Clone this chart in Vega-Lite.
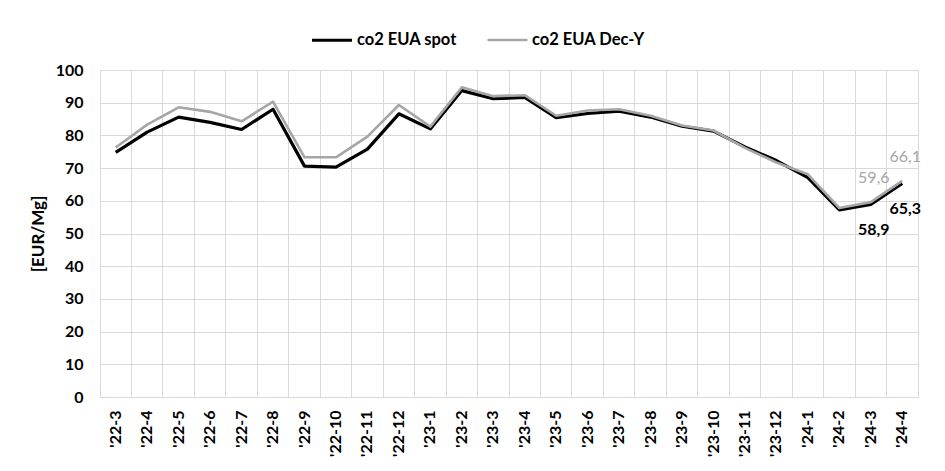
{
  "$schema": "https://vega.github.io/schema/vega-lite/v6.json",
  "width": 818,
  "height": 327,
  "autosize": "none",
  "padding": {"left": 100, "top": 70, "right": 27, "bottom": 74},
  "background": "white",
  "config": {
    "font": "Lato",
    "view": {"stroke": "#d9d9d9", "strokeWidth": 1}
  },
  "datasets": {
    "prices": [
      {"month": "'22-3", "series": "co2 EUA spot", "value": 74.8},
      {"month": "'22-4", "series": "co2 EUA spot", "value": 81.0},
      {"month": "'22-5", "series": "co2 EUA spot", "value": 85.6},
      {"month": "'22-6", "series": "co2 EUA spot", "value": 84.0},
      {"month": "'22-7", "series": "co2 EUA spot", "value": 81.8},
      {"month": "'22-8", "series": "co2 EUA spot", "value": 88.0},
      {"month": "'22-9", "series": "co2 EUA spot", "value": 70.6},
      {"month": "'22-10", "series": "co2 EUA spot", "value": 70.3},
      {"month": "'22-11", "series": "co2 EUA spot", "value": 75.8},
      {"month": "'22-12", "series": "co2 EUA spot", "value": 86.6},
      {"month": "'23-1", "series": "co2 EUA spot", "value": 82.0},
      {"month": "'23-2", "series": "co2 EUA spot", "value": 93.7},
      {"month": "'23-3", "series": "co2 EUA spot", "value": 91.2},
      {"month": "'23-4", "series": "co2 EUA spot", "value": 91.6},
      {"month": "'23-5", "series": "co2 EUA spot", "value": 85.4},
      {"month": "'23-6", "series": "co2 EUA spot", "value": 86.7},
      {"month": "'23-7", "series": "co2 EUA spot", "value": 87.4},
      {"month": "'23-8", "series": "co2 EUA spot", "value": 85.6},
      {"month": "'23-9", "series": "co2 EUA spot", "value": 82.8},
      {"month": "'23-10", "series": "co2 EUA spot", "value": 81.3},
      {"month": "'23-11", "series": "co2 EUA spot", "value": 76.5},
      {"month": "'23-12", "series": "co2 EUA spot", "value": 72.3},
      {"month": "'24-1", "series": "co2 EUA spot", "value": 67.1},
      {"month": "'24-2", "series": "co2 EUA spot", "value": 57.2},
      {"month": "'24-3", "series": "co2 EUA spot", "value": 58.9, "label": "58,9"},
      {"month": "'24-4", "series": "co2 EUA spot", "value": 65.3, "label": "65,3"},
      {"month": "'22-3", "series": "co2 EUA Dec-Y", "value": 76.3},
      {"month": "'22-4", "series": "co2 EUA Dec-Y", "value": 83.3},
      {"month": "'22-5", "series": "co2 EUA Dec-Y", "value": 88.6},
      {"month": "'22-6", "series": "co2 EUA Dec-Y", "value": 87.2},
      {"month": "'22-7", "series": "co2 EUA Dec-Y", "value": 84.3},
      {"month": "'22-8", "series": "co2 EUA Dec-Y", "value": 90.3},
      {"month": "'22-9", "series": "co2 EUA Dec-Y", "value": 73.3},
      {"month": "'22-10", "series": "co2 EUA Dec-Y", "value": 73.3},
      {"month": "'22-11", "series": "co2 EUA Dec-Y", "value": 79.6},
      {"month": "'22-12", "series": "co2 EUA Dec-Y", "value": 89.3},
      {"month": "'23-1", "series": "co2 EUA Dec-Y", "value": 82.7},
      {"month": "'23-2", "series": "co2 EUA Dec-Y", "value": 94.7},
      {"month": "'23-3", "series": "co2 EUA Dec-Y", "value": 92.0},
      {"month": "'23-4", "series": "co2 EUA Dec-Y", "value": 92.3},
      {"month": "'23-5", "series": "co2 EUA Dec-Y", "value": 86.0},
      {"month": "'23-6", "series": "co2 EUA Dec-Y", "value": 87.6},
      {"month": "'23-7", "series": "co2 EUA Dec-Y", "value": 88.0},
      {"month": "'23-8", "series": "co2 EUA Dec-Y", "value": 86.0},
      {"month": "'23-9", "series": "co2 EUA Dec-Y", "value": 83.0},
      {"month": "'23-10", "series": "co2 EUA Dec-Y", "value": 81.5},
      {"month": "'23-11", "series": "co2 EUA Dec-Y", "value": 76.2},
      {"month": "'23-12", "series": "co2 EUA Dec-Y", "value": 71.7},
      {"month": "'24-1", "series": "co2 EUA Dec-Y", "value": 68.1},
      {"month": "'24-2", "series": "co2 EUA Dec-Y", "value": 57.8},
      {"month": "'24-3", "series": "co2 EUA Dec-Y", "value": 59.6, "label": "59,6"},
      {"month": "'24-4", "series": "co2 EUA Dec-Y", "value": 66.1, "label": "66,1"}
    ]
  },
  "data": {"name": "prices"},
  "encoding": {
    "x": {
      "field": "month",
      "type": "ordinal",
      "sort": null,
      "scale": {"type": "band", "paddingInner": 0, "paddingOuter": 0},
      "axis": {
        "title": null,
        "bandPosition": 0,
        "grid": true,
        "gridColor": "#d9d9d9",
        "gridWidth": 1,
        "domain": false,
        "ticks": false,
        "labelAngle": -90,
        "labelAlign": "right",
        "labelBaseline": "middle",
        "labelPadding": 13,
        "labelFont": "Lato",
        "labelFontSize": 16,
        "labelFontWeight": "bold",
        "labelColor": "#000000"
      }
    },
    "y": {
      "field": "value",
      "type": "quantitative",
      "scale": {"domain": [0, 100], "nice": false, "zero": true},
      "axis": {
        "title": "[EUR/Mg]",
        "values": [0, 10, 20, 30, 40, 50, 60, 70, 80, 90, 100],
        "grid": true,
        "gridColor": "#d9d9d9",
        "gridWidth": 1,
        "domain": false,
        "ticks": false,
        "labelPadding": 17,
        "labelFont": "Lato",
        "labelFontSize": 16,
        "labelFontWeight": "bold",
        "labelColor": "#000000",
        "titleFont": "Lato",
        "titleFontSize": 17,
        "titleFontWeight": "bold",
        "titleColor": "#000000",
        "titleX": -62,
        "titleY": 163.5,
        "titleAngle": -90,
        "titleAlign": "center",
        "titleBaseline": "middle"
      }
    }
  },
  "layer": [
    {
      "mark": {"type": "line", "strokeJoin": "round"},
      "encoding": {
        "color": {
          "field": "series",
          "type": "nominal",
          "sort": ["co2 EUA spot", "co2 EUA Dec-Y"],
          "scale": {"domain": ["co2 EUA spot", "co2 EUA Dec-Y"], "range": ["#000000", "#a6a6a6"]},
          "legend": {
            "title": null,
            "orient": "none",
            "direction": "horizontal",
            "legendX": 210,
            "legendY": -52,
            "symbolType": "stroke",
            "symbolSize": 1600,
            "symbolStrokeWidth": 3,
            "labelFont": "Lato",
            "labelFontSize": 16.5,
            "labelFontWeight": "bold",
            "labelColor": "#000000",
            "labelOffset": 3,
            "columnPadding": 25
          }
        },
        "strokeWidth": {
          "field": "series",
          "type": "nominal",
          "scale": {"domain": ["co2 EUA spot", "co2 EUA Dec-Y"], "range": [3.2, 2.6]},
          "legend": null
        },
        "order": {"field": "series", "sort": "descending"}
      }
    },
    {
      "transform": [{"filter": "datum.label && datum.series == 'co2 EUA spot'"}],
      "mark": {"type": "text", "fontSize": 16, "fontWeight": "bold", "color": "#000000", "dx": 3, "dy": 26, "baseline": "middle", "align": "center"},
      "encoding": {"text": {"field": "label"}}
    },
    {
      "transform": [{"filter": "datum.label && datum.series == 'co2 EUA Dec-Y'"}],
      "mark": {"type": "text", "fontSize": 16, "fontWeight": "normal", "color": "#a6a6a6", "dx": 3, "dy": -24, "baseline": "middle", "align": "center"},
      "encoding": {"text": {"field": "label"}}
    }
  ]
}
